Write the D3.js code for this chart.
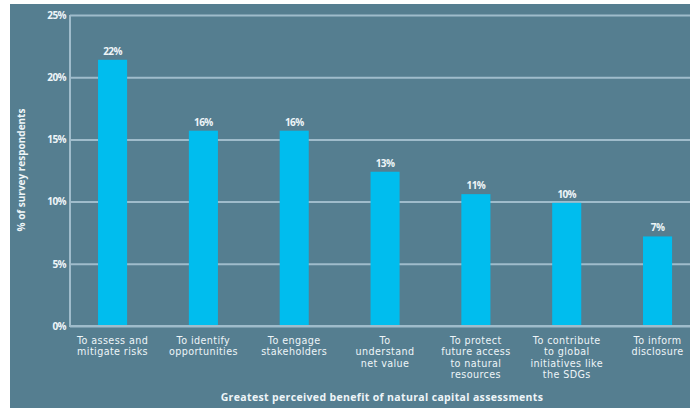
<!DOCTYPE html>
<html>
<head>
<meta charset="utf-8">
<script src="https://cdn.jsdelivr.net/npm/d3@7"></script>
<style>
html,body{margin:0;padding:0;background:#ffffff;}
svg{display:block;}
</style>
</head>
<body>
<svg id="chart" width="690" height="408"></svg>
<script>
const categories = [
  ["To assess and","mitigate risks"],
  ["To identify","opportunities"],
  ["To engage","stakeholders"],
  ["To","understand","net value"],
  ["To protect","future access","to natural","resources"],
  ["To contribute","to global","initiatives like","the SDGs"],
  ["To inform","disclosure"]
];
const values = [21.4, 15.7, 15.7, 12.4, 10.6, 9.9, 7.2];
const valueLabels = ["22%","16%","16%","13%","11%","10%","7%"];
const yTicks = [0, 5, 10, 15, 20, 25];
const yTitle = "% of survey respondents";
const xTitle = "Greatest perceived benefit of natural capital assessments";

const W = 690, H = 408;
const svg = d3.select("#chart");
const bg = "#557e90", barColor = "#00bdee", gridColor = "#9fbccb", textColor = "#eef5f8";

svg.append("rect").attr("x", 10).attr("y", 4).attr("width", W - 10).attr("height", H - 4).attr("fill", bg);

const x = d3.scaleBand().domain(d3.range(categories.length))
  .range([70, 690]).paddingInner(0.68).paddingOuter(0.253).align(0.61);
const y = d3.scaleLinear().domain([0, 25]).range([326, 15]);

// gridlines
const grid = svg.append("g")
  .attr("transform", "translate(70,0)")
  .call(d3.axisLeft(y).tickValues(yTicks).tickSize(-620).tickFormat(d => d + "%").tickPadding(4));
grid.select(".domain").remove();
grid.selectAll(".tick line").attr("stroke", gridColor).attr("stroke-width", 2);
grid.selectAll(".tick text").attr("fill", textColor)
  .attr("font-family", "'Open Sans', sans-serif").attr("font-size", 10).attr("font-weight", 700)
  .attr("letter-spacing", -0.6);

// y axis vertical line
svg.append("line").attr("x1", 70).attr("x2", 70).attr("y1", y(25)).attr("y2", y(0) + 1)
  .attr("stroke", gridColor).attr("stroke-width", 2);

// bars
svg.append("g").selectAll("rect").data(values).join("rect")
  .attr("x", (d, i) => x(i)).attr("width", x.bandwidth())
  .attr("y", d => y(d)).attr("height", d => y(0) - y(d) - 1)
  .attr("fill", barColor);

// value labels
svg.append("g").selectAll("text").data(values).join("text")
  .attr("x", (d, i) => x(i) + x.bandwidth() / 2)
  .attr("y", d => y(d) - 5)
  .attr("text-anchor", "middle")
  .attr("fill", textColor)
  .attr("font-family", "'Open Sans', sans-serif").attr("font-size", 10).attr("font-weight", 700)
  .attr("letter-spacing", -0.6)
  .text((d, i) => valueLabels[i]);

// baseline
svg.append("line").attr("x1", 70).attr("x2", 690).attr("y1", y(0)).attr("y2", y(0))
  .attr("stroke", gridColor).attr("stroke-width", 2);

// x category labels (one text per line)
const lineH = 11.3;
const xg = svg.append("g");
categories.forEach((lines, i) => {
  xg.selectAll(null).data(lines).join("text")
    .attr("x", x(i) + x.bandwidth() / 2)
    .attr("y", (d, j) => 344 + j * lineH)
    .attr("text-anchor", "middle")
    .attr("fill", textColor)
    .attr("font-family", "'DejaVu Sans', sans-serif").attr("font-size", 9.6)
    .attr("letter-spacing", 0.4)
    .text(d => d);
});

// y title
svg.append("text")
  .attr("transform", "translate(25,170) rotate(-90)")
  .attr("text-anchor", "middle")
  .attr("fill", textColor)
  .attr("font-family", "'Open Sans', sans-serif").attr("font-size", 10).attr("font-weight", 700)
  .text(yTitle);

// x title
svg.append("text")
  .attr("x", 382).attr("y", 401)
  .attr("text-anchor", "middle")
  .attr("fill", textColor)
  .attr("font-family", "'Open Sans', sans-serif").attr("font-size", 10.5).attr("font-weight", 700)
  .attr("letter-spacing", 0.35)
  .text(xTitle);
</script>
</body>
</html>
